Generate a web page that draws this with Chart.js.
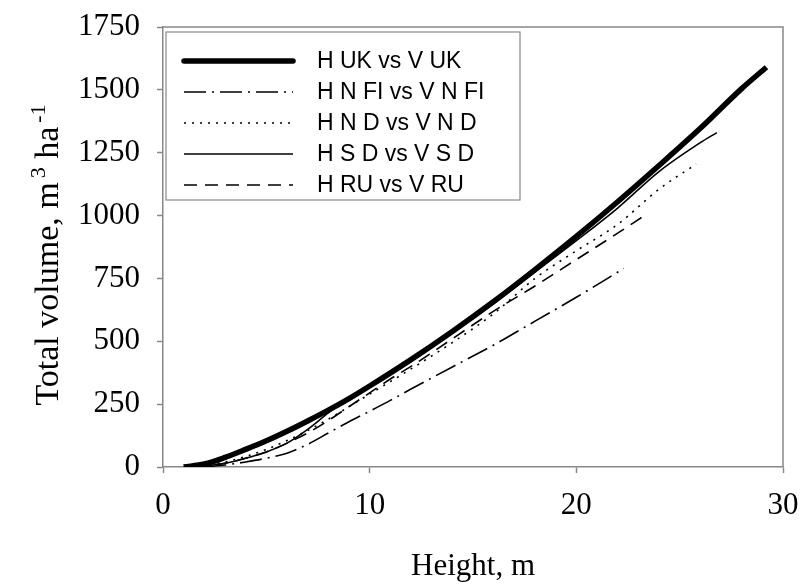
<!DOCTYPE html>
<html>
<head>
<meta charset="utf-8">
<script src="https://cdn.jsdelivr.net/npm/chart.js@4.4.1/dist/chart.umd.min.js"></script>
<style>
    html, body { margin: 0; padding: 0; background: #fff; }
</style>
</head>
<body>
<canvas id="myChart" width="811" height="588"></canvas>
<script>
// Data

const seriesNames = ["H UK vs V UK", "H N FI vs V N FI", "H N D vs V N D", "H S D vs V S D", "H RU vs V RU"];

const ukHeight = [1, 2, 3, 4, 5, 6, 7, 8, 9, 10, 12, 14, 16, 18, 20, 22, 24, 26, 28, 29.2];
const ukVolume = [0, 12, 38, 70, 104, 142, 183, 226, 272, 322, 427, 539, 658, 785, 917, 1055, 1199, 1347, 1505, 1590];

const nfiHeight = [2, 3, 4, 5, 6, 7, 8, 9, 10, 11, 12, 14, 16, 18, 20, 22.3];
const nfiVolume = [0, 8, 20, 35, 55, 90, 135, 180, 222, 265, 310, 398, 485, 580, 675, 790];

const ndHeight = [1.5, 3, 4, 5, 6, 7, 8, 9, 10, 12, 14, 16, 18, 20, 22, 24, 25.8];
const ndVolume = [0, 20, 42, 70, 105, 145, 190, 240, 290, 390, 495, 610, 750, 860, 965, 1105, 1205];

const sdHeight = [1.5, 3, 4, 5, 6, 7, 8, 9, 10, 12, 14, 16, 18, 20, 22, 24, 26, 26.8];
const sdVolume = [0, 15, 35, 60, 95, 150, 215, 275, 325, 425, 535, 650, 775, 900, 1030, 1175, 1290, 1330];

const ruHeight = [1.5, 3, 4, 5, 6, 7, 8, 9, 10, 11, 12, 14, 16, 18, 20, 22, 23.2];
const ruVolume = [0, 15, 35, 60, 95, 135, 185, 240, 295, 350, 400, 510, 620, 720, 825, 930, 995];

const xTicks = [0, 10, 20, 30];
const yTicks = [0, 250, 500, 750, 1000, 1250, 1500, 1750];

function toPoints(hs, vs) {
    return hs.map((h, i) => ({ x: h, y: vs[i] }));
}

// Setup

const serif = "'Liberation Serif', 'Times New Roman', serif";
const sans = "'Liberation Sans', Arial, sans-serif";

const styles = [
    { borderWidth: 5.5, borderDash: [] },
    { borderWidth: 1.6, borderDash: [22, 6, 2, 6] },
    { borderWidth: 1.6, borderDash: [2, 6] },
    { borderWidth: 1.6, borderDash: [] },
    { borderWidth: 1.6, borderDash: [13, 8] },
];

const pointSets = [
    toPoints(ukHeight, ukVolume),
    toPoints(nfiHeight, nfiVolume),
    toPoints(ndHeight, ndVolume),
    toPoints(sdHeight, sdVolume),
    toPoints(ruHeight, ruVolume),
];

const data = {
    datasets: seriesNames.map((name, i) => ({
        label: name,
        data: pointSets[i],
        borderColor: "#000",
        borderWidth: styles[i].borderWidth,
        borderDash: styles[i].borderDash,
        pointRadius: 0,
        fill: false,
        cubicInterpolationMode: "monotone",
        order: i === 0 ? 10 : i
    })),
};

// Plugin: frame, legend box and y title with superscripts

const decorations = {
    id: "decorations",
    afterDatasetsDraw(chart) {
        const ctx = chart.ctx;
        const ca = chart.chartArea;
        ctx.save();

        // plot frame
        ctx.strokeStyle = "#888";
        ctx.lineWidth = 1.5;
        ctx.beginPath();
        ctx.moveTo(ca.left, ca.top);
        ctx.lineTo(ca.right, ca.top);
        ctx.lineTo(ca.right, ca.bottom);
        ctx.stroke();

        // legend
        const bx = ca.left + 3, by = ca.top + 5, bw = 354, bh = 168;
        ctx.fillStyle = "#fff";
        ctx.fillRect(bx, by, bw, bh);
        ctx.strokeStyle = "#888";
        ctx.lineWidth = 1.2;
        ctx.strokeRect(bx, by, bw, bh);

        ctx.font = "23px " + sans;
        ctx.textBaseline = "middle";
        ctx.textAlign = "left";
        chart.data.datasets.forEach((ds, i) => {
            const y = by + 29 + i * 31;
            ctx.strokeStyle = "#000";
            ctx.lineWidth = ds.borderWidth;
            ctx.setLineDash(ds.borderDash);
            ctx.lineCap = i === 0 ? "round" : "butt";
            ctx.beginPath();
            ctx.moveTo(bx + 18, y);
            ctx.lineTo(bx + 127, y);
            ctx.stroke();
            ctx.setLineDash([]);
            ctx.fillStyle = "#000";
            ctx.fillText(ds.label, bx + 151, y + 1);
        });

        // y axis title
        const parts = [
            { t: "Total volume, m", sup: false },
            { t: "3", sup: true },
            { t: " ha", sup: false },
            { t: "-1", sup: true },
        ];
        const fs = 34, fsSup = 22;
        let total = 0;
        parts.forEach(p => {
            ctx.font = (p.sup ? fsSup : fs) + "px " + serif;
            p.w = ctx.measureText(p.t).width;
            total += p.w + (p.sup ? 4 : 0);
        });
        ctx.translate(46, 255);
        ctx.rotate(-Math.PI / 2);
        ctx.textBaseline = "alphabetic";
        let x = -total / 2;
        parts.forEach(p => {
            ctx.font = (p.sup ? fsSup : fs) + "px " + serif;
            if (p.sup) x += 4;
            ctx.fillText(p.t, x, p.sup ? -1 : 12);
            x += p.w;
        });
        ctx.restore();
    }
};

// Config

const config = {
    type: "line",
    data,
    options: {
        responsive: false,
        animation: false,
        layout: {
            padding: { left: 0, right: 28, top: 27, bottom: 0 }
        },
        plugins: {
            legend: { display: false },
            tooltip: { enabled: false }
        },
        scales: {
            x: {
                type: "linear",
                min: 0,
                max: 30,
                afterBuildTicks: s => { s.ticks = xTicks.map(v => ({ value: v })); },
                afterFit: s => { s.height = 121; s.paddingLeft = 0; s.paddingRight = 0; },
                border: { color: "#888", width: 1.5 },
                grid: { drawOnChartArea: false, tickLength: 6, color: "#888", tickWidth: 1.5 },
                ticks: {
                    color: "#000",
                    font: { family: serif, size: 31 },
                    padding: 14,
                    maxRotation: 0,
                    callback: v => String(v)
                },
                title: {
                    display: true,
                    text: "Height, m",
                    color: "#000",
                    font: { family: serif, size: 31 },
                    padding: { top: 0, bottom: 3 }
                }
            },
            y: {
                min: 0,
                max: 1750,
                afterBuildTicks: s => { s.ticks = yTicks.map(v => ({ value: v })); },
                afterFit: s => { s.width = 163; s.paddingTop = 0; s.paddingBottom = 0; },
                border: { color: "#888", width: 1.5 },
                grid: { drawOnChartArea: false, tickLength: 6, color: "#888", tickWidth: 1.5 },
                ticks: {
                    color: "#000",
                    font: { family: serif, size: 31 },
                    padding: 17,
                    callback: v => String(v)
                }
            },
        },
    },
    plugins: [decorations]
};

// Render

const myChart = new Chart(document.getElementById("myChart"), config);
</script>
</body>
</html>
